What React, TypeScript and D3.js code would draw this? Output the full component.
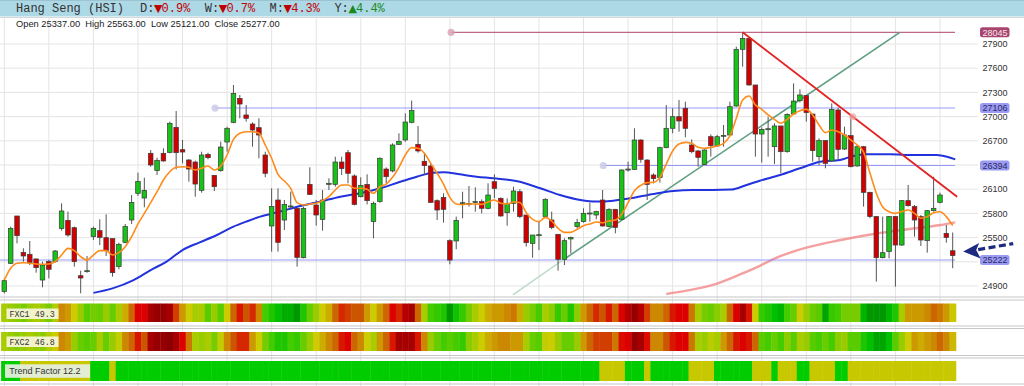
import React, { useEffect } from 'react';
import * as d3 from 'd3';

// ---------- DATA ----------
const opens = [24830,25181,25768,25317,25293,25235,24974,25202,25202,25611,25714,25623,25028,25078,25512,25586,25499,25487,25140,25441,25718,26049,25991,26545,26330,26545,26557,26867,26590,26462,26437,26086,26532,26272,26330,26685,26929,27226,27020,26908,26863,26524,25644,25966,25718,25883,25863,25251,26160,25904,25726,26164,26160,26437,26553,26264,26007,26160,25698,25946,26350,26326,26656,26710,26929,26656,26446,26388,25958,25999,25462,25458,25925,25917,25937,25946,25863,26193,25987,25809,25925,26069,25780,25429,25528,25760,25718,25541,25231,25483,25636,25698,25797,25780,25966,25636,25851,25727,26338,26346,26710,26462,26276,26247,26615,26855,26999,27103,26648,26574,26408,26751,26636,26760,26772,27131,27834,27970,27392,26784,26842,26627,26884,26565,27032,27197,27260,27032,26503,26702,26450,27082,26598,26764,26388,26627,26061,25760,25251,25326,25760,25408,25958,25884,25760,25462,25834,25937,25553,25337];
const highs = [24995,25636,25768,25367,25458,25243,25202,25222,25346,25925,25822,25636,25090,25272,25636,25727,25789,25487,25437,25669,26028,26305,26243,26586,26491,26607,26937,27069,26710,26474,26454,26565,26553,26276,26689,26875,27392,27268,27144,26929,26979,26565,26111,26111,25966,26069,25863,25884,26371,25966,26090,26235,26503,26503,26586,26284,26247,26284,25946,26495,26371,26669,26793,27040,27198,26883,26553,26412,25974,26049,25479,25760,26069,26140,26123,25974,26173,26284,25999,25987,26131,26100,25780,25532,25698,25987,25822,25541,25491,25512,25731,25863,25933,25834,26090,25863,25851,26346,26441,26855,26718,26470,26297,26627,27144,27103,27206,27185,26718,26586,26594,26780,26772,26896,27185,27867,28045,27975,27392,26867,26999,26917,26884,27041,27412,27338,27268,27032,26731,26710,27165,27111,26875,27020,26648,26636,26069,25768,25760,25768,25768,25966,26152,25904,25780,25842,26255,26057,25656,25563];
const lows = [24809,25173,25429,25202,25160,25065,24884,24995,25189,25586,25512,25140,24809,25065,25470,25408,25272,25016,25107,25429,25669,26016,25875,26379,26276,26441,26545,26346,26421,26193,26007,26057,26470,26078,26317,26565,26917,26979,26937,26627,26483,26247,25326,25326,25594,25863,25140,25243,26028,25648,25586,26090,26131,26276,26173,25900,25999,25912,25491,25933,26173,26309,26648,26689,26917,26553,26276,25929,25718,25685,25169,25355,25739,25884,25822,25801,25850,25987,25760,25648,25822,25740,25388,25251,25346,25747,25603,25090,25160,25305,25615,25685,25698,25727,25636,25627,25553,25718,26317,26338,26429,25966,26173,26181,26607,26793,26813,26743,26545,26379,26400,26503,26627,26627,26760,27123,27619,27383,26503,26429,26503,26412,26297,26553,27020,27177,26937,26441,26400,26359,26441,26462,26586,26371,26379,25884,25739,24954,25243,25243,24892,25396,25884,25512,25396,25313,25822,25925,25437,25121];
const closes = [24966,25615,25524,25272,25189,25127,25160,25107,25334,25830,25532,25202,24999,25090,25615,25503,25338,25065,25417,25636,25937,26197,26086,26400,26458,26450,26917,26553,26561,26350,26164,26524,26491,26131,26623,26855,27288,27156,26979,26834,26772,26297,25884,25441,25912,25892,25255,25863,26036,25780,25966,26173,26437,26355,26297,25912,26148,25958,25925,26483,26255,26648,26693,26933,27074,26574,26392,25937,25842,25850,25222,25714,25933,25925,25946,25863,26028,26111,25768,25925,26078,25760,25437,25532,25536,25975,25627,25231,25462,25503,25689,25801,25805,25822,25644,25851,25627,26338,26350,26710,26470,26160,26231,26615,26855,26999,26946,26855,26565,26495,26586,26640,26751,26768,27123,27834,27970,27392,26784,26842,26850,26884,26565,27028,27193,27268,27049,26578,26702,26421,27090,26594,26772,26379,26627,26061,25760,25251,25313,25760,25408,25958,25896,25718,25470,25834,25863,26028,25503,25277];

// short moving average (orange), one value per candle
const maShort = [24974,25119,25181,25189,25181,25173,25169,25173,25202,25284,25367,25338,25264,25222,25284,25338,25338,25284,25313,25388,25512,25669,25801,25933,26069,26214,26317,26371,26379,26371,26338,26359,26388,26338,26388,26524,26718,26793,26813,26813,26793,26648,26483,26284,26201,26111,25933,25904,25917,25925,25958,26007,26090,26152,26152,26111,26111,26098,26049,26131,26164,26247,26371,26524,26615,26607,26545,26421,26297,26164,25999,25917,25908,25917,25917,25912,25941,25966,25925,25917,25941,25935,25809,25727,25698,25751,25706,25615,25565,25565,25603,25648,25669,25693,25685,25706,25718,25793,25933,26082,26148,26181,26185,26247,26412,26574,26661,26681,26669,26619,26607,26619,26636,26669,26760,26979,27206,27255,27145,27090,27020,26966,26917,26966,27032,27074,27090,27020,26896,26801,26834,26813,26772,26710,26648,26560,26300,26050,25880,25820,25800,25822,25842,25801,25740,25760,25809,25820,25760,25650];

// medium moving average (blue), sampled points
const maMidIdx = [14,17,20.3,23,25.5,28,30.7,33.4,36,38,40.2,43.3,46.5,49.6,52.8,55.9,59.1,62.2,64.8,67.4,69,71.6,74.2,76.8,81,84.2,87.3,90.5,93.1,95.7,98.3,102,105.1,108.2,111.3,114.2,116.6,118.7,121.9,125,128.2,131.3,133.4,135.5,139.2,142.8,146.5,148.1,149.4];
const maMidVal = [24815,24871,24974,25098,25202,25346,25441,25532,25636,25698,25760,25822,25892,25946,26007,26049,26111,26193,26255,26305,26309,26284,26255,26235,26193,26111,26028,25966,25946,25958,25987,26041,26078,26090,26090,26095,26152,26205,26276,26359,26441,26462,26512,26532,26532,26524,26524,26503,26470];

// long moving average (pink), sampled points
const maLongIdx = [104,107.2,111.3,115.5,118.7,121,126,131.4,136.6,141.9,147.1,149.4];
const maLongVal = [24801,24842,24913,25040,25150,25240,25376,25470,25545,25603,25656,25689];

// horizontal levels
const levelValues = [28045, 27106, 26394, 25222];
const levelStartIdx = [70.2, 33.1, 94.1, -1];
const levelMarker = [true, true, true, false];

// trend lines [startIdx, startPrice, endIdx, endPrice]
const downTrend = [116, 28045, 149.7, 26007];
const upTrend = [88, 25235, 140.7, 28045];
const upTrendExtStart = [79.9, 24789];
const downTrendMarkerIdx = 133.3;

const yTicks = [24900, 25200, 25500, 25800, 26100, 26400, 26700, 27000, 27300, 27600, 27900];

const fxc1 = [57,60,62,65,60,57,60,65,55,39,42,50,60,69,65,67,60,67,57,45,33,15,15,5,2,2,5,26,42,50,57,57,69,60,69,50,33,19,30,22,39,72,79,85,90,90,96,79,67,60,50,45,33,22,26,30,30,42,50,42,33,15,22,8,5,33,57,72,75,79,96,82,75,65,57,50,45,42,42,39,
  36,45,60,65,72,57,62,75,67,79,62,42,33,22,30,19,33,15,8,2,8,26,39,39,33,19,15,15,36,57,65,67,62,57,33,15,5,19,50,75,79,85,88,72,67,50,60,67,69,92,75,72,65,65,65,88,96,96,96,88,79,57,42,42,42,39,33,36,42,49.3];
const fxc2 = [57,60,62,60,57,60,62,55,50,39,42,60,67,69,67,57,67,60,52,39,33,19,30,5,2,2,0,5,15,36,57,60,57,65,52,39,30,22,22,42,50,65,72,79,79,72,75,67,60,50,45,39,33,19,15,33,39,50,57,42,33,19,5,5,5,19,39,60,67,72,69,72,75,62,57,50,45,42,39,39,
  42,42,57,67,69,52,50,60,67,67,60,42,33,26,26,26,36,17,15,2,5,17,39,39,30,19,15,15,36,57,60,54,57,42,33,19,15,19,33,69,72,67,72,62,69,57,60,69,72,67,72,62,60,69,69,79,85,92,92,85,69,60,50,42,45,42,39,33,39,46.8];
const trendState = [1,1,1,0,0,0,0,0,0,0,0,0,0,0,1,1,1,0,
  1,1,1,1,1,1,1,1,1,1,1,1,1,1,1,1,1,1,1,1,1,1,1,1,1,1,1,1,1,1,1,1,1,1,1,1,1,1,1,1,1,1,1,1,1,1,1,1,1,1,1,1,1,1,1,1,1,1,1,1,1,1,1,1,1,1,1,1,1,1,1,1,1,1,1,1,
  0,0,0,0,1,1,1,0,1,1,1,1,1,1,0,0,0,0,1,1,1,1,1,1,0,0,0,1,0,0,0,1,1,0,0,0,0,1,1,
  0,0,0,0,0,0,0,0,0,0,0,0,0,0,0,0,0];

const title = 'Hang Seng (HSI)';
const changes = [
  { label: 'D:', dir: '▼', pct: '0.9%' },
  { label: 'W:', dir: '▼', pct: '0.7%' },
  { label: 'M:', dir: '▼', pct: '4.3%' },
  { label: 'Y:', dir: '▲', pct: '4.4%' },
];
const ohlcText = 'Open 25337.00  High 25563.00  Low 25121.00  Close 25277.00';
const fxc1Label = 'FXC1 49.3';
const fxc2Label = 'FXC2 46.8';
const trendLabel = 'Trend Factor 12.2';

// ---------- STYLE ----------
const heatColor = d3
  .scaleLinear<string>()
  .domain([0, 15, 30, 42, 50, 60, 72, 85, 100])
  .range(['#8b0000', '#dd0000', '#cc5500', '#cc9900', '#cccc00', '#99cc00', '#44cc00', '#00c000', '#008800'])
  .interpolate(d3.interpolateRgb)
  .clamp(true);

const MONO = "'Liberation Mono', 'DejaVu Sans Mono', monospace";
const SANS = "'Liberation Sans', Arial, sans-serif";

export default function App() {
  useEffect(() => {
    document.body.style.margin = '0';
  }, []);

  const W = 1024;
  const H = 386;
  const n = closes.length;
  const x = d3.scaleLinear().domain([0, n - 1]).range([4.3, 952.7]);
  const y = d3.scaleLinear().domain([24900, 27900]).range([286, 44]);
  const step = x(1) - x(0);
  const bodyW = 4.6;

  const lineShort = d3
    .line<number>()
    .x((_, i) => x(i))
    .y((d) => y(d))
    .curve(d3.curveMonotoneX);
  const linePts = d3
    .line<[number, number]>()
    .x((d) => x(d[0]))
    .y((d) => y(d[1]))
    .curve(d3.curveMonotoneX);

  const midPts: [number, number][] = maMidIdx.map((v, i) => [v, maMidVal[i]]);
  const longPts: [number, number][] = maLongIdx.map((v, i) => [v, maLongVal[i]]);

  const vGridIdx = d3.range(0, n, 7);
  const labelX = 995;
  const sepLines = [297, 300, 326, 328.5, 355.5, 358, 384];

  const last = n - 1;
  const tipX = x(last) + 10.5;
  const tipY = y(closes[last]) - 4;

  const downY = (idx: number) =>
    downTrend[1] + ((downTrend[3] - downTrend[1]) * (idx - downTrend[0])) / (downTrend[2] - downTrend[0]);

  return (
    <div style={{ position: 'absolute', left: 0, top: 0 }}>
      <svg width={W} height={H} style={{ display: 'block', background: '#fff' }}>
        {/* header */}
        <rect x={0} y={0} width={W} height={16.5} fill="#add8e6" />
        <line x1={0} x2={W} y1={0.5} y2={0.5} stroke="#9cc3d0" />
        <text x={16} y={12} fontFamily={MONO} fontSize={12} fill="#333">
          {title}
        </text>
        {changes.map((c, i) => {
          const bx = 140 + i * 64.8;
          const col = c.dir === '▲' ? '#1a8a1a' : '#c00000';
          return (
            <text key={c.label} y={12} fontFamily={MONO} fontSize={12} fill="#333">
              <tspan x={bx}>{c.label}</tspan>
              <tspan x={bx + 14} fill={col} fontSize={11} fontFamily="'DejaVu Sans', sans-serif">{c.dir}</tspan>
              <tspan x={bx + 21.6} fill={col}>{c.pct}</tspan>
            </text>
          );
        })}
        <line x1={0} x2={W} y1={17.5} y2={17.5} stroke="#d8d8d8" />

        {/* vertical grid */}
        {vGridIdx.map((i) => (
          <line key={'vg' + i} x1={x(i)} x2={x(i)} y1={18} y2={386} stroke="#e4e4e4" strokeWidth={1} />
        ))}
        {/* horizontal grid */}
        {yTicks.map((t) => (
          <line key={'hg' + t} x1={0} x2={978} y1={y(t)} y2={y(t)} stroke="#e4e4e4" strokeWidth={1} />
        ))}

        {/* OHLC text */}
        <text x={16} y={27} fontFamily={SANS} fontSize={9.3} fill="#222" style={{ whiteSpace: 'pre' }}>
          {ohlcText}
        </text>

        {/* y tick labels */}
        {yTicks.map((t) => (
          <text key={'yt' + t} x={labelX} y={y(t) + 3.2} textAnchor="middle" fontFamily={SANS} fontSize={9} fill="#333">
            {t}
          </text>
        ))}

        {/* long MA (pink) */}
        <path d={linePts(longPts) || ''} fill="none" stroke="#f08080" strokeOpacity={0.75} strokeWidth={2.4} />

        {/* horizontal levels */}
        {levelValues.map((v, k) => (
          <g key={'lv' + v}>
            <line
              x1={levelStartIdx[k] < 0 ? 0 : x(levelStartIdx[k])}
              x2={955}
              y1={y(v)}
              y2={y(v)}
              stroke={k === 0 ? '#b8587a' : '#8888ff'}
              strokeWidth={k === 0 ? 1.3 : 1.1}
              strokeOpacity={k === 0 ? 0.9 : 0.85}
            />
            {levelMarker[k] && (
              <circle cx={x(levelStartIdx[k])} cy={y(v)} r={3.6} fill={k === 0 ? '#d8a0b4' : '#c8c8e6'} fillOpacity={0.8} />
            )}
          </g>
        ))}

        {/* up trend line */}
        <line
          x1={x(upTrendExtStart[0])}
          y1={y(upTrendExtStart[1])}
          x2={x(upTrend[0])}
          y2={y(upTrend[1])}
          stroke="#bcdcca"
          strokeWidth={1.5}
        />
        <line x1={x(upTrend[0])} y1={y(upTrend[1])} x2={x(upTrend[2])} y2={y(upTrend[3])} stroke="#5f9f80" strokeWidth={1.6} />

        {/* medium MA (blue) */}
        <path d={linePts(midPts) || ''} fill="none" stroke="#2233dd" strokeWidth={2} />

        {/* candles */}
        {closes.map((c, i) => {
          const o = opens[i];
          const up = c >= o;
          const top = y(Math.max(o, c));
          const bot = y(Math.min(o, c));
          const h = Math.max(1, bot - top);
          return (
            <g key={'c' + i}>
              <line x1={x(i)} x2={x(i)} y1={y(highs[i])} y2={y(lows[i])} stroke="#555" strokeWidth={1} />
              <rect
                x={x(i) - bodyW / 2}
                y={top}
                width={bodyW}
                height={h}
                fill={up ? '#16c316' : '#d10000'}
                stroke="#3a3a3a"
                strokeWidth={0.7}
              />
            </g>
          );
        })}

        {/* short MA (orange) */}
        <path d={lineShort(maShort) || ''} fill="none" stroke="#ff8c1a" strokeWidth={1.6} />

        {/* down trend line */}
        <line x1={x(downTrend[0])} y1={y(downTrend[1])} x2={x(downTrend[2])} y2={y(downTrend[3])} stroke="#e42020" strokeWidth={1.8} />
        <circle cx={x(downTrendMarkerIdx)} cy={y(downY(downTrendMarkerIdx))} r={3.5} fill="#f0a0a0" fillOpacity={0.7} />

        {/* level labels */}
        {levelValues.map((v, k) => (
          <g key={'ll' + v}>
            <rect x={980} y={y(v) - 5} width={29.5} height={10} rx={2.5} fill={k === 0 ? '#a8446e' : '#9a9af2'} />
            <text
              x={labelX}
              y={y(v) + 3.2}
              textAnchor="middle"
              fontFamily={SANS}
              fontSize={9}
              fill={k === 0 ? '#f4e6ee' : '#2a2a66'}
            >
              {v}
            </text>
          </g>
        ))}

        {/* arrow */}
        <line
          x1={tipX + 15}
          y1={tipY - 2}
          x2={tipX + 50}
          y2={tipY - 8}
          stroke="#1c2a80"
          strokeWidth={3.2}
          strokeDasharray="7,3.5"
        />
        <path
          d={`M${tipX},${tipY} L${tipX + 16},${tipY - 8.5} L${tipX + 13},${tipY - 1.5} L${tipX + 17.5},${tipY + 7} Z`}
          fill="#1c2a80"
        />

        {/* separators */}
        {sepLines.map((s) => (
          <line key={'s' + s} x1={0} x2={W} y1={s} y2={s} stroke="#c6c6c6" strokeWidth={1.2} />
        ))}

        {/* heatmaps */}
        {fxc1.map((v, i) => (
          <rect key={'f1' + i} x={x(i) - step / 2} y={303.5} width={step + 0.4} height={18.5} fill={heatColor(v)} />
        ))}
        {fxc2.map((v, i) => (
          <rect key={'f2' + i} x={x(i) - step / 2} y={332} width={step + 0.4} height={19} fill={heatColor(v)} />
        ))}
        {trendState.map((v, i) => (
          <rect key={'tf' + i} x={x(i) - step / 2} y={361} width={step + 0.4} height={20} fill={v ? '#00cc00' : '#c8c800'} />
        ))}

        {/* panel labels */}
        <rect x={6.5} y={308.5} width={52} height={10.5} fill="#faf6dc" fillOpacity={0.92} />
        <text x={9.5} y={316.8} fontFamily={MONO} fontSize={8.4} fill="#333">
          {fxc1Label}
        </text>
        <rect x={6.5} y={336.5} width={52} height={10.5} fill="#faf6dc" fillOpacity={0.92} />
        <text x={9.5} y={344.8} fontFamily={MONO} fontSize={8.4} fill="#333">
          {fxc2Label}
        </text>
        <rect x={5} y={364.3} width={85} height={13.5} fill="#e6efe4" fillOpacity={0.92} />
        <text x={9.3} y={374.3} fontFamily={SANS} fontSize={9} fill="#333">
          {trendLabel}
        </text>
      </svg>
    </div>
  );
}
